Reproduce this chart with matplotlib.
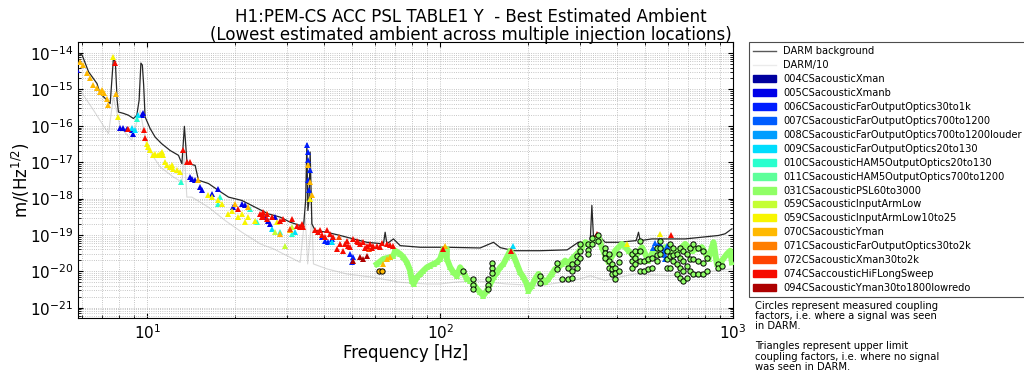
import numpy as np
import matplotlib
matplotlib.use('Agg')
import matplotlib.pyplot as plt
from matplotlib.patches import Patch
from matplotlib.lines import Line2D

# injection names (legend order)
injections = ["004CSacousticXman", "005CSacousticXmanb", "006CSacousticFarOutputOptics30to1k",
              "007CSacousticFarOutputOptics700to1200", "008CSacousticFarOutputOptics700to1200louder",
              "009CSacousticFarOutputOptics20to130", "010CSacousticHAM5OutputOptics20to130",
              "011CSacousticHAM5OutputOptics700to1200", "031CSacousticPSL60to3000",
              "059CSacousticInputArmLow", "059CSacousticInputArmLow10to25", "070CSacousticYman",
              "071CSacousticFarOutputOptics30to2k", "072CSacousticXman30to2k",
              "074CSaccousticHiFLongSweep", "094CSacousticYman30to1800lowredo"]

# DARM background
darm_f = [5.83, 6.0, 6.31, 6.74, 6.91, 7.29, 7.48, 7.67, 7.79, 7.9, 7.98, 8.30, 8.63, 8.98, 9.22, 9.39,
          9.52, 9.63, 9.73, 9.84, 10.24, 10.65, 11.2, 11.98, 12.79, 13.14, 13.4, 13.66, 13.84, 14.58,
          14.97, 16.19, 17.51, 18.95, 21.05, 23.37, 25.94, 28.44, 30.76, 33.28, 34.15, 34.75, 35.08,
          35.36, 35.7, 36.0, 36.49, 37.45, 41.05, 45.57, 50.58, 56.21, 64.05, 64.9, 65.78, 69.27,
          73.04, 85.5, 105.4, 136.9, 152.1, 160.3, 177.9, 219.5, 271.3, 296, 325, 329.4, 333.6,
          342.6, 365.8, 406.1, 466.5, 475.2, 481.6, 527.9, 685.7, 891, 939, 990]
darm_a = [9.8e-15, 8.8e-15, 3.05e-15, 1.46e-15, 7.8e-16, 5.1e-16, 4.1e-16, 7.1e-15, 5.65e-15, 5.1e-16,
          2.4e-16, 2.2e-16, 1.96e-16, 1.59e-16, 1.96e-16, 5.1e-16, 5.3e-15, 4.67e-15, 1.31e-15,
          1.76e-16, 8.4e-17, 4.9e-17, 3.25e-17, 2.1e-17, 1.55e-17, 9.1e-18, 9.7e-17, 1.13e-17,
          9.1e-18, 8.2e-18, 3.2e-18, 2.6e-18, 1.68e-18, 1.1e-18, 8.9e-19, 5.8e-19, 3.8e-19, 3.1e-19,
          2.25e-19, 1.82e-19, 1.63e-19, 8.9e-19, 3.25e-17, 4.7e-19, 8.9e-19, 1.9e-17, 2.03e-19,
          1.33e-19, 1.19e-19, 9.7e-20, 7.8e-20, 6.3e-20, 5.7e-20, 1.19e-19, 5.7e-20, 7.8e-20,
          5.1e-20, 4.6e-20, 4.6e-20, 4.4e-20, 6.3e-20, 4.5e-20, 3.7e-20, 3.7e-20, 3.9e-20, 6.3e-20,
          6.0e-20, 6.5e-19, 8.7e-20, 1.08e-19, 6.3e-20, 6.3e-20, 7.0e-20, 1.19e-19, 7.0e-20, 7.8e-20,
          7.8e-20, 9.7e-20, 1.08e-19, 1.48e-19]

# DARM/10
darm10_f = [5.90, 6.56, 7.38, 7.67, 8.09, 8.86, 9.46, 9.98, 11.08, 12.3, 13.14, 13.4, 13.66, 14.21,
            16.19, 18.46, 21.05, 23.37, 24.3, 27.0, 29.98, 33.28, 34.61, 35.3, 36.49, 36.95, 41.05,
            48.03, 59.21, 73.04, 90.1, 100, 111, 129.9, 168.9, 219.5, 285, 313, 325, 365.8, 404,
            463, 601, 782, 990]
darm10_a = [9.6e-16, 2.7e-16, 6.1e-17, 6.25e-16, 9.3e-17, 4.0e-17, 2.7e-16, 2.6e-17, 7.4e-18, 3.9e-18,
            2.85e-18, 2.0e-17, 1.1e-18, 1.1e-18, 5.8e-19, 2.5e-19, 1.19e-19, 7.0e-20, 5.7e-20,
            4.15e-20, 2.7e-20, 1.77e-20, 3.8e-19, 1.6e-20, 3.1e-19, 1.6e-20, 1.17e-20, 8.5e-21,
            6.85e-21, 5.0e-21, 4.5e-21, 4.5e-21, 5.0e-21, 5.6e-21, 4.5e-21, 4.05e-21, 5.6e-21,
            6.85e-21, 7.6e-21, 5.6e-21, 6.85e-21, 8.5e-21, 7.6e-21, 9.4e-21, 1.17e-20]

# upper limits (triangles)
f_005 = [5.78, 8.09, 8.30, 8.52, 8.87, 8.98, 9.59, 9.71, 14.02, 14.21, 14.58, 15.17, 15.37, 16.63,
         17.51, 19.71, 21.05, 21.6, 25.94, 26.29, 25.28, 27.34]
a_005 = [3.4e-15, 9.0e-17, 9.0e-17, 8.4e-17, 7.55e-17, 6.1e-17, 1.96e-16, 2.2e-16, 3.9e-18, 3.5e-18,
         3.2e-18, 2.07e-18, 1.68e-18, 1.36e-18, 1.87e-18, 5.8e-19, 7.2e-19, 6.5e-19, 2.5e-19,
         2.03e-19, 3.1e-19, 3.1e-19]
f_006 = [35.08, 35.36, 35.52, 36.0, 35.52, 35.7, 39.47, 40.51, 41.58, 42.7, 49.29, 50.58, 49.95]
a_006 = [2.9e-17, 1.9e-17, 1.13e-17, 6.0e-18, 3.2e-18, 1.7e-18, 8.7e-20, 7.0e-20, 6.3e-20, 7.8e-20,
         3.0e-20, 2.44e-20, 1.77e-20]
f_007 = [534.6, 541.8, 554.6, 563.5, 572.5, 582.9, 583, 583, 590.7, 595]
a_007 = [4.5e-20, 6.2e-20, 5.45e-20, 5.8e-20, 4.5e-20, 3.7e-20, 2.9e-20, 2.24e-20, 3.97e-20, 5.1e-20]
f_009 = [8.87, 9.10, 9.34, 26.64, 32.0, 42.7, 177.1]
a_009 = [8.7e-17, 7.9e-17, 1.96e-16, 1.48e-19, 1.19e-19, 6.3e-20, 5.1e-20]
f_010 = [9.22, 13.0, 17.75, 17.51, 23.68, 22.47, 28.44, 31.18]
a_010 = [1.59e-16, 2.85e-18, 1.1e-18, 7.2e-19, 2.25e-19, 5.25e-19, 1.19e-19, 1.08e-19]
f_031 = [60.81, 64.05, 67.5, 69.27, 70.2, 73.04, 74.95, 76.97, 79.0, 80.07, 81.1, 83.3, 85.5, 87.7,
         90.1, 92.4, 94.9, 97.4, 100, 101.3, 102.6, 105.4, 105.4, 108.2, 111.0, 114.0, 117.0, 120.1,
         123.3, 126.6, 129.9, 133.5, 136.9, 140.5, 144.3, 148.1, 152.1, 156.2, 160.3, 164.4, 168.9,
         173.4, 177.9, 182.7, 187.5, 192.4, 197.6, 200.2, 205.6, 211, 216.6, 222.4, 228.2, 234.2,
         240.6, 246.9, 253.4, 260.3, 267.1, 274.1, 281.5, 288.9, 296.5, 304.5, 312.5, 320.7, 325.1,
         333.6, 347.0, 356.4, 365.8, 375.4, 395.7, 417.1, 439.3, 463.0, 488.0, 514.0, 534.6, 586.1,
         633.9, 685.7, 722.8, 782.0, 823.7, 846.0, 856.6, 879.9, 915.1, 951.9, 976.8, 990]
a_031 = [1.6e-20, 2.2e-20, 2.44e-20, 2.7e-20, 3.7e-20, 3.0e-20, 2.44e-20, 1.77e-20, 1.05e-20, 5.6e-21,
         4.5e-21, 6.85e-21, 8.5e-21, 1.05e-20, 1.29e-20, 1.44e-20, 1.6e-20, 1.77e-20, 2.2e-20,
         3.0e-20, 4.15e-20, 4.15e-20, 2.2e-20, 1.29e-20, 9.4e-21, 7.6e-21, 1.29e-20, 9.4e-21,
         6.2e-21, 5.6e-21, 4.5e-21, 3.3e-21, 2.65e-21, 2.15e-21, 2.95e-21, 4.5e-21, 6.85e-21,
         9.4e-21, 1.29e-20, 1.6e-20, 2.44e-20, 3.7e-20, 2.7e-20, 1.6e-20, 9.4e-21, 6.85e-21, 4.5e-21,
         2.95e-21, 4.05e-21, 6.2e-21, 8.5e-21, 6.2e-21, 5.0e-21, 6.2e-21, 8.5e-21, 1.17e-20,
         1.29e-20, 1.6e-20, 1.98e-20, 1.6e-20, 2.2e-20, 2.7e-20, 3.35e-20, 4.6e-20, 6.3e-20,
         5.7e-20, 5.1e-20, 7.0e-20, 8.7e-20, 4.6e-20, 2.7e-20, 1.77e-20, 3.7e-20, 5.7e-20, 3.7e-20,
         2.44e-20, 4.6e-20, 1.98e-20, 3.7e-20, 4.6e-20, 3.0e-20, 5.7e-20, 3.7e-20, 4.6e-20, 2.2e-20,
         4.6e-20, 6.3e-20, 1.6e-20, 1.98e-20, 3.0e-20, 3.7e-20, 1.77e-20]
f_059 = [27.34, 29.58, 31.18]
a_059 = [1.2e-19, 5.1e-20, 1.63e-19]
f_059b = [7.67, 7.98, 9.98, 10.1, 10.24, 10.5, 10.65, 10.93, 11.08, 11.2, 11.37, 11.52, 11.67, 11.98,
          12.14, 12.3, 12.63, 12.96, 16.19, 16.63, 17.51, 17.99, 18.95, 19.46, 20.49, 21.05, 22.17,
          23.37, 21.6, 25.62, 27.71, 36.0, 563.5, 433.8]
a_059b = [7.6e-15, 1.76e-16, 3.25e-17, 2.6e-17, 2.1e-17, 1.55e-17, 1.72e-17, 1.55e-17, 1.72e-17,
          1.9e-17, 1.55e-17, 1.01e-17, 8.2e-18, 7.4e-18, 8.2e-18, 6.65e-18, 6.0e-18, 5.4e-18,
          1.22e-18, 1.1e-18, 8.9e-19, 7.2e-19, 3.8e-19, 4.7e-19, 3.1e-19, 3.8e-19, 3.1e-19, 2.5e-19,
          2.25e-19, 3.8e-19, 2.25e-19, 9.9e-19, 1.08e-19, 5.7e-20]
f_070 = [5.90, 6.06, 6.23, 6.39, 6.56, 6.74, 6.91, 7.0, 7.10, 7.29, 7.38, 7.84, 14.97, 19.97, 22.17,
         28.44, 30.76, 36.0, 35.52, 36.49, 64.05, 65.78, 67.5, 104]
a_070 = [5.8e-15, 4.67e-15, 2.76e-15, 2.0e-15, 1.31e-15, 1.07e-15, 8.6e-16, 9.6e-16, 7.8e-16, 5.6e-16,
         3.7e-16, 7.3e-16, 3.2e-18, 7.2e-19, 5.8e-19, 1.08e-19, 1.33e-19, 2.85e-18, 8.2e-18,
         1.22e-18, 1.6e-20, 2.2e-20, 2.44e-20, 5.1e-20]
f_072 = [30.76, 45.0, 57.0]
a_072 = [1.45e-19, 9.0e-20, 4.0e-20]
f_074 = [7.79, 8.63, 9.79, 9.84, 13.3, 13.66, 14.02, 20.49, 24.3, 24.94, 24.64, 25.62, 26.64, 24.94,
         25.62, 28.44, 29.19, 31.18, 32.43, 33.28, 33.73, 34.15, 37.45, 38.43, 38.95, 41.05, 42.13,
         43.23, 45.57, 47.4, 48.03, 49.29, 50.58, 51.95, 53.33, 54.73, 56.21, 57.69, 59.21, 60.81,
         65.78, 69.27, 48.64, 44.4, 46.77, 39.47, 40.51, 52.5, 55.5, 58.5, 62.4, 63.5, 67.5,
         102.6, 174.3, 342.6, 614.3]
a_074 = [5.4e-15, 8.4e-17, 7.55e-17, 4.5e-17, 2.1e-17, 1.01e-17, 1.01e-17, 5.25e-19, 3.8e-19, 3.4e-19,
         3.1e-19, 3.8e-19, 3.1e-19, 4.2e-19, 2.8e-19, 2.5e-19, 2.8e-19, 2.8e-19, 1.82e-19, 1.63e-19,
         2.03e-19, 1.63e-19, 1.33e-19, 1.19e-19, 1.33e-19, 1.33e-19, 1.08e-19, 8.7e-20, 5.7e-20,
         5.7e-20, 7.0e-20, 4.6e-20, 7.8e-20, 7.0e-20, 5.7e-20, 6.3e-20, 5.1e-20, 5.7e-20, 5.1e-20,
         5.1e-20, 5.7e-20, 5.1e-20, 5.1e-20, 4.15e-20, 3.7e-20, 1.0e-19, 9.0e-20, 6.3e-20, 4.5e-20,
         4.3e-20, 4.8e-20, 6.0e-20, 5.4e-20, 4.15e-20, 3.7e-20, 1.08e-19, 9.7e-20]
f_094 = [50.58, 53.33, 54.73, 56.21]
a_094 = [1.98e-20, 2.44e-20, 2.2e-20, 2.7e-20]

# measured coupling (circles)
f_031_meas = [120.1, 129.9, 129.9, 129.9, 146.2, 146.2, 146.2, 150.1, 150.1, 150.1, 219.5, 219.5,
              250.2, 250.2, 260.3, 274.1, 274.1, 281.5, 281.5, 281.5, 292.8, 292.8, 292.8, 300.5,
              300.5, 300.5, 320.7, 320.7, 320.7, 329.4, 329.4, 347.0, 347.0, 365.8, 365.8, 365.8,
              375.4, 375.4, 375.4, 385.5, 385.5, 385.5, 395.7, 395.7, 395.7, 406.1, 406.1, 406.1,
              451.2, 451.2, 451.2, 463, 463, 463, 481.6, 481.6, 481.6, 481.6, 494.3, 494.3, 514, 514,
              527.9, 527.9, 549.1, 549.1, 549.1, 563.5, 563.5, 563.5, 594, 594, 594, 609.5, 609.5,
              609.5, 625.5, 625.5, 625.5, 642.4, 642.4, 642.4, 659.3, 659.3, 659.3, 659.3, 676.6,
              676.6, 676.6, 676.6, 695, 695, 695, 713.2, 713.2, 713.2, 732, 732, 732, 761.4, 761.4,
              761.4, 791.9, 791.9, 791.9, 813.3, 813.3, 891, 891, 915.1]
a_031_meas = [1.05e-20, 6.3e-21, 4.3e-21, 3.35e-21, 6.3e-21, 4.3e-21, 3.35e-21, 1.74e-20, 1.27e-20,
              9.2e-21, 7.6e-21, 4.9e-21, 1.74e-20, 1.19e-20, 6.3e-21, 1.27e-20, 6.3e-21, 1.63e-20,
              1.05e-20, 6.7e-21, 2.7e-20, 1.85e-20, 1.27e-20, 5.8e-20, 3.7e-20, 2.39e-20, 5.8e-20,
              3.97e-20, 3.08e-20, 8.5e-20, 5.8e-20, 9.7e-20, 7.0e-20, 4.5e-20, 3.28e-20, 2.39e-20,
              3.08e-20, 1.98e-20, 1.27e-20, 1.63e-20, 1.19e-20, 8.5e-21, 1.27e-20, 9.2e-21, 6.3e-21,
              3.08e-20, 1.85e-20, 1.05e-20, 3.08e-20, 1.98e-20, 1.27e-20, 3.7e-20, 2.39e-20, 1.63e-20,
              7.0e-20, 3.7e-20, 1.98e-20, 1.05e-20, 1.98e-20, 1.05e-20, 2.24e-20, 1.19e-20, 2.39e-20,
              1.27e-20, 4.5e-20, 2.9e-20, 1.98e-20, 7.0e-20, 4.5e-20, 3.08e-20, 3.7e-20, 2.24e-20,
              1.27e-20, 5.8e-20, 2.7e-20, 1.27e-20, 4.5e-20, 2.9e-20, 1.98e-20, 3.08e-20, 1.63e-20,
              8.5e-21, 4.5e-20, 2.39e-20, 1.27e-20, 6.7e-21, 3.7e-20, 1.98e-20, 1.05e-20, 5.6e-21,
              3.08e-20, 1.44e-20, 6.7e-21, 4.5e-20, 2.24e-20, 1.05e-20, 5.8e-20, 2.24e-20, 8.5e-21,
              4.5e-20, 1.98e-20, 8.5e-21, 3.7e-20, 1.74e-20, 8.5e-21, 2.39e-20, 1.05e-20, 1.63e-20,
              1.27e-20, 1.44e-20]
f_070_meas = [62.06, 63.2]
a_070_meas = [1.05e-20, 1.0e-20]

# tick positions
x_ticks = [10, 100, 1000]
y_ticks = [1e-21, 1e-20, 1e-19, 1e-18, 1e-17, 1e-16, 1e-15, 1e-14]

colors = plt.cm.jet(np.linspace(0.03, 0.96, 16))
col = dict(zip([n[:3] + ('b' if n.endswith('10to25') else '') for n in injections], colors))

fig = plt.figure(figsize=(10.24, 3.76), dpi=100)
ax = fig.add_axes([0.076, 0.154, 0.64, 0.734])

ax.plot(darm_f, darm_a, color='0.15', lw=0.9, zorder=2)
ax.plot(darm10_f, darm10_a, color='0.85', lw=0.8, zorder=1)

# 031 sweep is so dense it reads as a thick band
ax.plot(f_031, a_031, '-^', color=col['031'], lw=4.3, ms=4.5, mew=0, zorder=3)
tri = [(f_005, a_005, '005'), (f_006, a_006, '006'), (f_007, a_007, '007'), (f_009, a_009, '009'),
       (f_010, a_010, '010'), (f_059, a_059, '059'), (f_059b, a_059b, '059b'),
       (f_070, a_070, '070'), (f_072, a_072, '072'), (f_074, a_074, '074'), (f_094, a_094, '094')]
for f, a, key in tri:
    ax.plot(f, a, '^', color=col[key], ms=3.8, mew=0, zorder=4)
ax.plot(f_031_meas, a_031_meas, 'o', mfc=col['031'], mec='k', mew=0.7, ms=3.8, zorder=5)
ax.plot(f_070_meas, a_070_meas, 'o', mfc=col['070'], mec='k', mew=0.7, ms=3.8, zorder=5)

ax.set_xscale('log')
ax.set_yscale('log')
ax.set_xticks(x_ticks)
ax.set_yticks(y_ticks)
ax.set_xlim(5.8, 1000)
ax.set_ylim(5.2e-22, 2e-14)
ax.grid(True, which='both', linestyle=':', color='0.7', lw=0.6)
ax.tick_params(which='both', direction='in', top=True, right=True)
ax.tick_params(labelsize=11)
ax.set_xlabel('Frequency [Hz]', fontsize=12, labelpad=2)
ax.set_ylabel('m/(Hz$^{1/2}$)', fontsize=12)
ax.yaxis.set_label_coords(-0.07, 0.5)

fig.text(0.46, 0.978, 'H1:PEM-CS ACC PSL TABLE1 Y  - Best Estimated Ambient\n'
         '(Lowest estimated ambient across multiple injection locations)',
         ha='center', va='top', fontsize=12, linespacing=1.0)

handles = [Line2D([], [], color='0.35', lw=1), Line2D([], [], color='0.92', lw=1)]
handles += [Patch(color=c) for c in colors]
labels = ['DARM background', 'DARM/10'] + injections
leg = ax.legend(handles, labels, loc='upper left', bbox_to_anchor=(1.024, 1.0), fontsize=7.1,
                labelspacing=0.40, fancybox=False, edgecolor='0.3', framealpha=1,
                handlelength=2.3, borderaxespad=0)
leg.get_frame().set_linewidth(0.8)

fig.text(0.737, 0.2, 'Circles represent measured coupling\nfactors, i.e. where a signal was seen\n'
         'in DARM.\n\nTriangles represent upper limit\ncoupling factors, i.e. where no signal\n'
         'was seen in DARM.', ha='left', va='top', fontsize=7.2, linespacing=1.02)

fig.savefig('out.png', dpi=100)
